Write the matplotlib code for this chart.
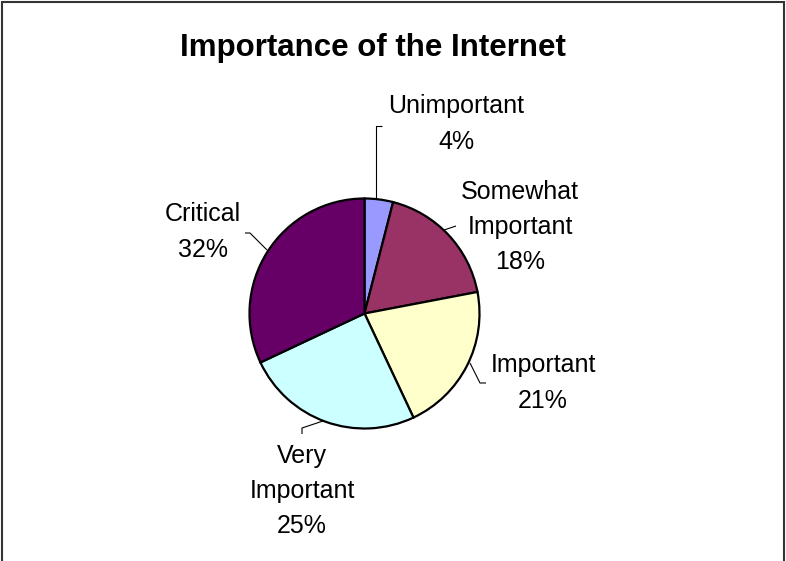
import matplotlib
matplotlib.use("Agg")
import matplotlib.pyplot as plt
from matplotlib.patches import Rectangle

categories = ["Unimportant", "Somewhat\nImportant", "Important", "Very\nImportant", "Critical"]
values = [4, 18, 21, 25, 32]
colors = ["#9999FF", "#993366", "#FFFFCC", "#CCFFFF", "#660066"]
title = "Importance of the Internet"

W, H = 786, 561
plt.rcParams['font.family'] = ['Liberation Sans', 'DejaVu Sans']
fig = plt.figure(figsize=(W / 100, H / 100), dpi=100)
ax = fig.add_axes([0, 0, 1, 1])
ax.set_xlim(0, W)
ax.set_ylim(0, H)
ax.set_aspect('equal')
ax.axis('off')

def Y(y):
    return H - y

cx, cy, r = 364.5, 313.5, 115
ax.pie(values, colors=colors, startangle=90, counterclock=False,
       center=(cx, Y(cy)), radius=r,
       wedgeprops=dict(edgecolor='black', linewidth=1.6))
ax.set_xlim(0, W)
ax.set_ylim(0, H)

# label positions (image pixel coords) and leader lines
label_pos = [(456, 124), (520, 227), (543, 383), (302, 491), (203, 232)]
leaders = [
    [(382, 126), (376, 126), (376, 198)],
    [(456, 226), (444, 230)],
    [(486, 383), (480, 383), (470, 363)],
    [(302, 434), (302, 428), (323, 421)],
    [(245, 233), (250, 233), (267, 250)],
]
for cat, v, (lx, ly), ld in zip(categories, values, label_pos, leaders):
    ax.text(lx, Y(ly), f"{cat}\n{v}%", ha='center', va='center',
            fontsize=18, linespacing=1.6, color='black')
    xs = [p[0] for p in ld]
    ys = [Y(p[1]) for p in ld]
    ax.plot(xs, ys, color='black', linewidth=0.8, solid_capstyle='butt')

ax.text(373, Y(48), title, ha='center', va='center', fontsize=22.5,
        fontweight='bold', color='black')

fig.patches.append(Rectangle((2 / W, -0.1), (W - 4) / W, 1.1 - 2 / H,
                             transform=fig.transFigure, fill=False,
                             edgecolor='#333333', linewidth=1.5))

fig.savefig("out.png", dpi=100)
